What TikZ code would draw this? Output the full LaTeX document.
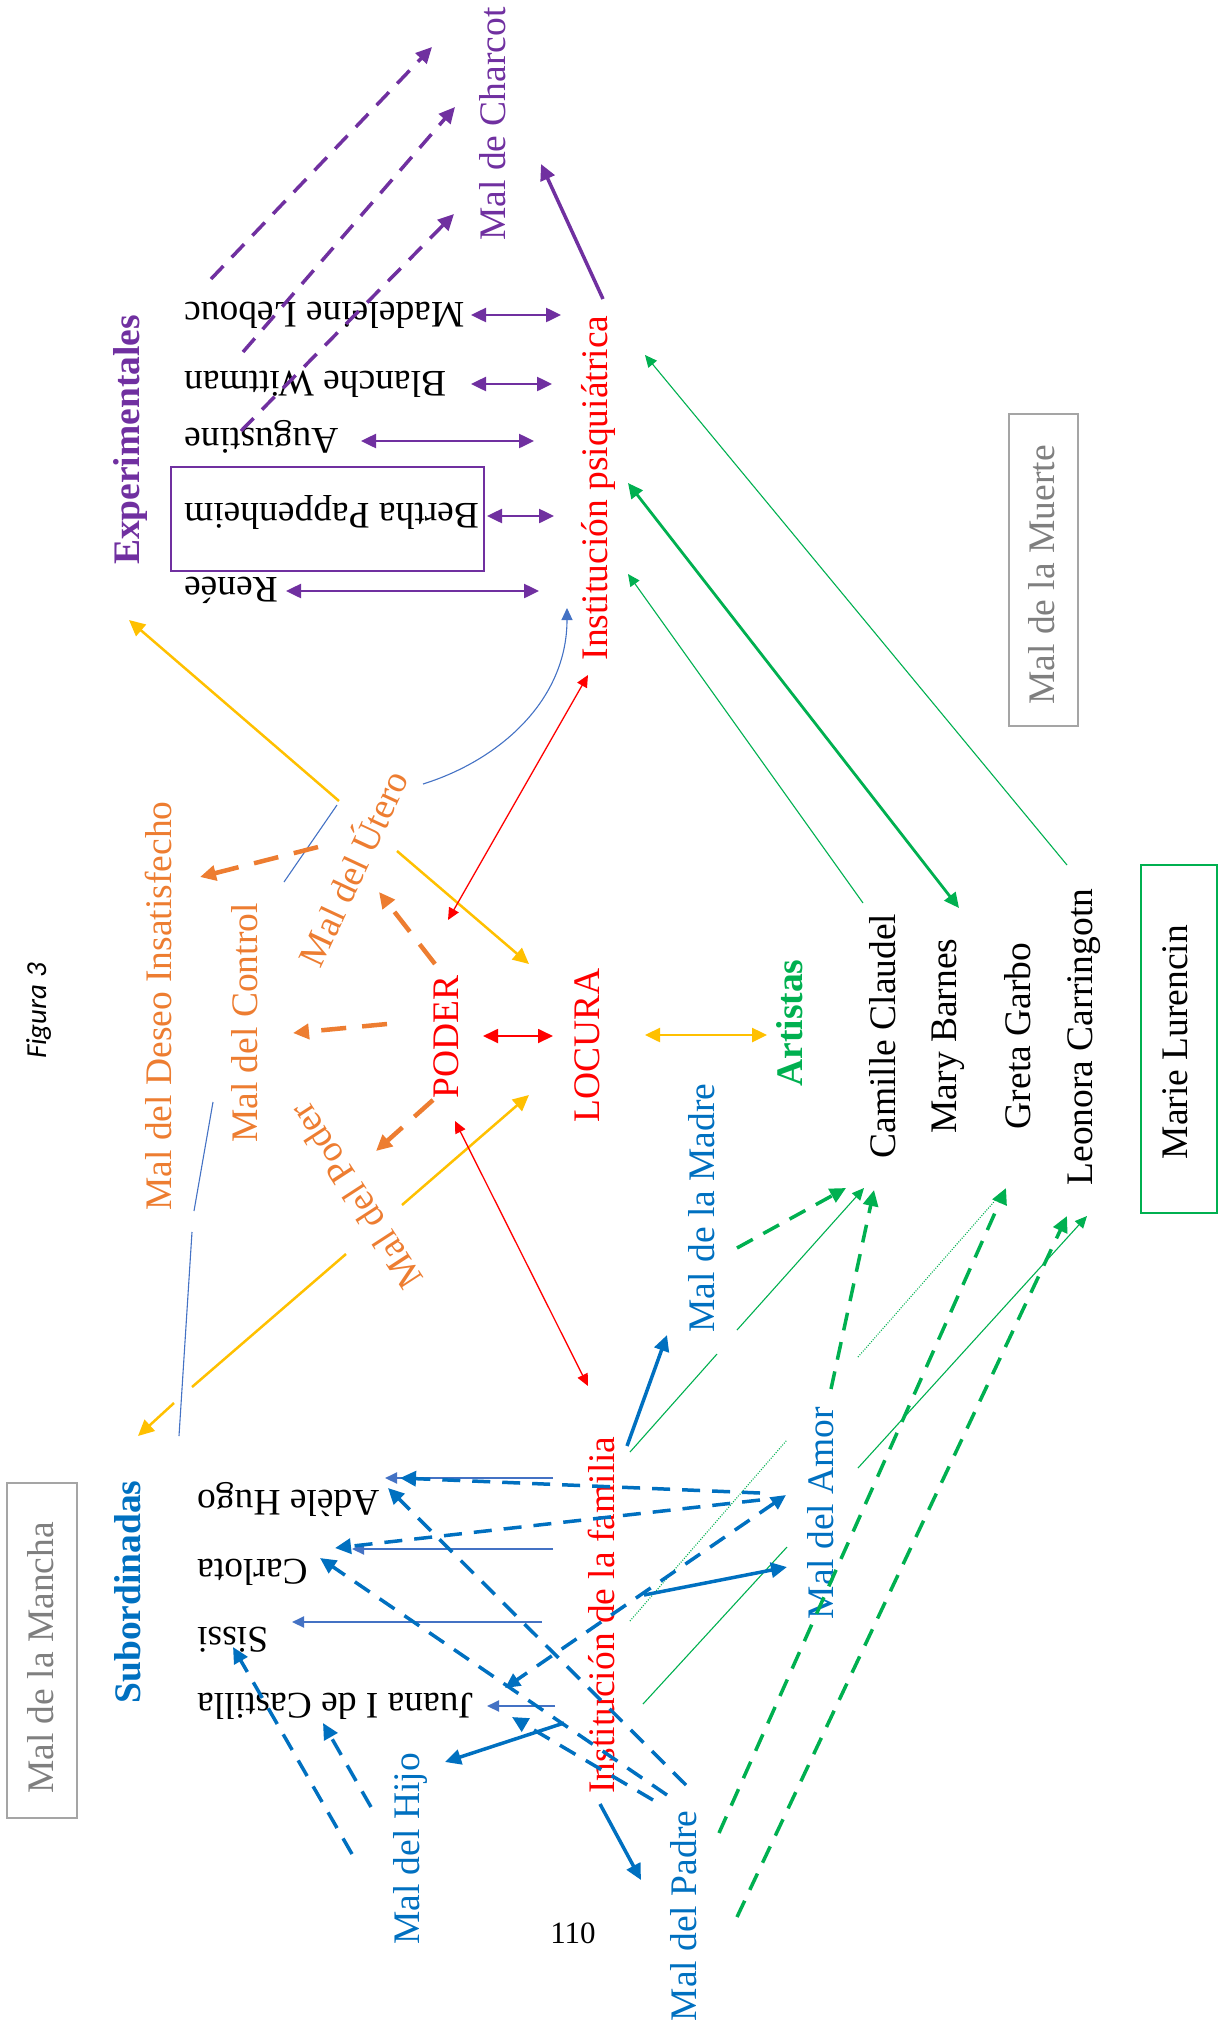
\documentclass[tikz,border=0pt]{standalone}
\usepackage{fontspec}
\setmainfont{Liberation Serif}
\newfontfamily\figfont{Carlito}
\usetikzlibrary{arrows.meta}
\definecolor{cpur}{HTML}{7030A0}
\definecolor{cgrn}{HTML}{00B050}
\definecolor{cblu}{HTML}{0070C0}
\definecolor{cblt}{HTML}{4472C4}
\definecolor{corg}{HTML}{ED7D31}
\definecolor{cyel}{HTML}{FFC000}
\definecolor{cred}{HTML}{FF0000}
\definecolor{cgbx}{HTML}{A5A5A5}
\definecolor{cgtx}{HTML}{7F7F7F}
\newcommand\fsz{\fontsize{37.5}{42}\selectfont}
\begin{document}
\begin{tikzpicture}[x=1pt,y=-1pt,
 lab/.style={inner sep=0pt,font=\fsz},
 vtxt/.style={lab,rotate=90,anchor=base},
 utxt/.style={lab,rotate=180,anchor=base east},
 hs/.style={-{Triangle[length=12pt,width=11pt]}},
 hsd/.style={{Triangle[length=12pt,width=11pt]}-{Triangle[length=12pt,width=11pt]}},
 hl/.style={-{Triangle[length=16pt,width=15pt]}},
 hld/.style={{Triangle[length=15pt,width=14pt]}-{Triangle[length=15pt,width=14pt]}},
 dsh/.style={dash pattern=on 18pt off 12pt},
 dsho/.style={dash pattern=on 25pt off 16pt},
]
\path[use as bounding box] (0,0) rectangle (1225,2039);

% ---------- text nodes ----------
\node[vtxt,text=cpur] (charcot) at (505,124) {Mal de Charcot};
\node[vtxt,text=cpur,font=\fsz\bfseries] (exper) at (139,440) {Experimentales};
\node[utxt] (madel) at (184,302) {Madeleine Lebouc};
\node[utxt] (blanche) at (184,371) {Blanche Wittman};
\node[utxt] (august) at (184,428) {Augustine};
\node[utxt] (bertha) at (184,503) {Bertha Pappenheim};
\node[utxt] (renee) at (184,577) {Renée};
\node[vtxt,text=cred] (ipsi) at (607,488) {Institución psiquiátrica};
\node[vtxt,text=cgtx] (muerte) at (1054,575) {Mal de la Muerte};
\node[vtxt,text=corg] (deseo) at (171,1006) {Mal del Deseo Insatisfecho};
\node[vtxt,text=corg] (control) at (257,1023) {Mal del Control};
\node[lab,text=corg,rotate=65] (utero) at (351,867) {Mal del Útero};
\node[lab,text=corg,rotate=123] (mpoder) at (356,1196) {Mal del Poder};
\node[vtxt,text=cred] (poder) at (458,1037) {PODER};
\node[vtxt,text=cred] (locura) at (599,1045) {LOCURA};
\node[vtxt,text=cgrn,font=\fsz\bfseries] (artistas) at (802,1023) {Artistas};
\node[vtxt] (camille) at (895,1036) {Camille Claudel};
\node[vtxt] (mary) at (956,1036) {Mary Barnes};
\node[vtxt] (greta) at (1030,1036) {Greta Garbo};
\node[vtxt] (leonora) at (1092,1037) {Leonora Carringotn};
\node[vtxt] (marie) at (1187,1042) {Marie Lurencin};
\node[vtxt,text=cblu] (madre) at (714,1208) {Mal de la Madre};
\node[vtxt,text=cblu] (amor) at (833,1513) {Mal del Amor};
\node[vtxt,text=cred] (ifam) at (614,1615) {Institución de la familia};
\node[vtxt,text=cblu] (hijo) at (419,1849) {Mal del Hijo};
\node[vtxt,text=cblu] (padre) at (696,1916) {Mal del Padre};
\node[vtxt,text=cblu,font=\fsz\bfseries] (subord) at (140,1592) {Subordinadas};
\node[utxt] (adele) at (197,1490) {Adèle Hugo};
\node[utxt] (carlota) at (197,1559) {Carlota};
\node[utxt] (sissi) at (197,1627) {Sissi};
\node[utxt] (juana) at (197,1693) {Juana I de Castilla};
\node[vtxt,text=cgtx] (mancha) at (53,1658) {Mal de la Mancha};
\node[inner sep=0pt,rotate=90,anchor=base,font=\figfont\itshape\fontsize{29}{32}\selectfont] (fig) at (46,1011) {Figura 3};
\node[inner sep=0pt,anchor=base,font=\fontsize{31}{34}\selectfont] (pnum) at (573,1943) {110};

% ---------- boxes ----------
\draw[cpur,line width=2pt] (171,467) rectangle (484,571);
\draw[cgbx,line width=1.5pt] (7,1483) rectangle (77,1818);
\draw[cgbx,line width=1.5pt] (1009,414) rectangle (1078,726);
\draw[cgrn,line width=1.3pt] (1141,865) rectangle (1217,1213);

% ---------- coordinates ----------
\coordinate (pd1s) at (211,279); \coordinate (pd1e) at (432,47);
\coordinate (pd2s) at (243,352); \coordinate (pd2e) at (455,107);
\coordinate (pd3s) at (241,431); \coordinate (pd3e) at (454,214);
\coordinate (pts) at (603,299);  \coordinate (pte) at (541,164);
\coordinate (pma) at (471,315); \coordinate (pmb) at (561,315);
\coordinate (pba) at (471,384); \coordinate (pbb) at (552,384);
\coordinate (paa) at (361,441); \coordinate (pab) at (534,441);
\coordinate (pea) at (487,516); \coordinate (peb) at (554,516);
\coordinate (pra) at (286,591); \coordinate (prb) at (539,591);

\coordinate (bc1a) at (179,1436); \coordinate (bc1b) at (192,1232);
\coordinate (bc2a) at (194,1211); \coordinate (bc2b) at (213,1102);
\coordinate (bc3a) at (284,882);  \coordinate (bc3b) at (337,805);
\coordinate (bc4a) at (423,784);  \coordinate (bc4b) at (567,608);
\coordinate (bc4c) at (500,760);  \coordinate (bc4d) at (567,700);

\coordinate (y1a) at (339,801); \coordinate (y1b) at (129,620);
\coordinate (y2a) at (397,851); \coordinate (y2b) at (529,964);
\coordinate (y3a) at (402,1205); \coordinate (y3b) at (529,1095);
\coordinate (y4a) at (346,1254); \coordinate (y4b) at (192,1387);
\coordinate (y4c) at (174,1403); \coordinate (y4d) at (138,1436);
\coordinate (y5a) at (645,1035); \coordinate (y5b) at (767,1035);

\coordinate (r1a) at (448,920); \coordinate (r1b) at (588,675);
\coordinate (r2a) at (483,1036); \coordinate (r2b) at (553,1036);
\coordinate (r3a) at (455,1121); \coordinate (r3b) at (588,1386);

\coordinate (o1a) at (318,847); \coordinate (o1b) at (200,877);
\coordinate (o2a) at (435,964); \coordinate (o2b) at (379,892);
\coordinate (o3a) at (387,1024); \coordinate (o3b) at (293,1033);
\coordinate (o4a) at (433,1100); \coordinate (o4b) at (376,1151);

\coordinate (g1a) at (863,903); \coordinate (g1b) at (628,574);
\coordinate (g2a) at (628,483); \coordinate (g2b) at (959,908);
\coordinate (g3a) at (1067,865); \coordinate (g3b) at (645,355);
\coordinate (g4a) at (630,1452); \coordinate (g4b) at (717,1354);
\coordinate (g4c) at (737,1330); \coordinate (g4d) at (864,1188);
\coordinate (g5a) at (630,1621); \coordinate (g5b) at (787,1440);
\coordinate (g5c) at (858,1357); \coordinate (g5d) at (999,1196);
\coordinate (g6a) at (643,1704); \coordinate (g6b) at (787,1547);
\coordinate (g6c) at (858,1468); \coordinate (g6d) at (1087,1216);
\coordinate (g7a) at (737,1248); \coordinate (g7b) at (846,1188);
\coordinate (g8a) at (831,1389); \coordinate (g8b) at (874,1190);
\coordinate (g9a) at (719,1833); \coordinate (g9b) at (1006,1188);
\coordinate (g10a) at (737,1917); \coordinate (g10b) at (1067,1216);

\coordinate (bt1a) at (553,1478); \coordinate (bt1b) at (385,1478);
\coordinate (bt2a) at (553,1549); \coordinate (bt2b) at (352,1549);
\coordinate (bt3a) at (542,1622); \coordinate (bt3b) at (292,1622);
\coordinate (bt4a) at (555,1706); \coordinate (bt4b) at (487,1706);
\coordinate (bd1a) at (760,1493); \coordinate (bd1b) at (400,1478);
\coordinate (bd2a) at (760,1500); \coordinate (bd2b) at (335,1548);
\coordinate (bd3a) at (786,1495); \coordinate (bd3b) at (505,1688);
\coordinate (bd4a) at (686,1785); \coordinate (bd4b) at (388,1488);
\coordinate (bd5a) at (667,1795); \coordinate (bd5b) at (320,1558);
\coordinate (bd6a) at (653,1800); \coordinate (bd6b) at (512,1717);
\coordinate (bd7a) at (352,1854); \coordinate (bd7b) at (233,1647);
\coordinate (bd8a) at (371,1807); \coordinate (bd8b) at (323,1723);
\coordinate (bk1a) at (627,1446); \coordinate (bk1b) at (667,1335);
\coordinate (bk2a) at (600,1804); \coordinate (bk2b) at (641,1880);
\coordinate (bk3a) at (564,1723); \coordinate (bk3b) at (445,1762);
\coordinate (bk4a) at (644,1595); \coordinate (bk4b) at (787,1567);

% ---------- purple ----------
\draw[cpur,line width=3.5pt,dsh,hl] (pd1s) -- (pd1e);
\draw[cpur,line width=3.5pt,dsh,hl] (pd2s) -- (pd2e);
\draw[cpur,line width=3.5pt,dsh,hl] (pd3s) -- (pd3e);
\draw[cpur,line width=3.5pt,hl] (pts) -- (pte);
\draw[cpur,line width=2.5pt,hld] (pma) -- (pmb);
\draw[cpur,line width=2.5pt,hld] (pba) -- (pbb);
\draw[cpur,line width=2.5pt,hld] (paa) -- (pab);
\draw[cpur,line width=2.5pt,hld] (pea) -- (peb);
\draw[cpur,line width=2.5pt,hld] (pra) -- (prb);

% ---------- thin blue curve ----------
\draw[cblt,line width=1.1pt] (bc1a) -- (bc1b);
\draw[cblt,line width=1.1pt] (bc2a) -- (bc2b);
\draw[cblt,line width=1.1pt] (bc3a) -- (bc3b);
\draw[cblt,line width=1.1pt,hs] (bc4a) .. controls (bc4c) and (bc4d) .. (bc4b);

% ---------- yellow ----------
\draw[cyel,line width=2.5pt,hl] (y1a) -- (y1b);
\draw[cyel,line width=2.5pt,hl] (y2a) -- (y2b);
\draw[cyel,line width=2.5pt,hl] (y3a) -- (y3b);
\draw[cyel,line width=2.5pt] (y4a) -- (y4b);
\draw[cyel,line width=2.5pt,hl] (y4c) -- (y4d);
\draw[cyel,line width=2.5pt,hld] (y5a) -- (y5b);

% ---------- red ----------
\draw[cred,line width=1.3pt,hsd] (r1a) -- (r1b);
\draw[cred,line width=1.8pt,hld] (r2a) -- (r2b);
\draw[cred,line width=1.3pt,hsd] (r3a) -- (r3b);

% ---------- orange ----------
\draw[corg,line width=4.5pt,dsho,hl] (o1a) -- (o1b);
\draw[corg,line width=4.5pt,dsho,hl] (o2a) -- (o2b);
\draw[corg,line width=4.5pt,dsho,hl] (o3a) -- (o3b);
\draw[corg,line width=4.5pt,dsho,hl] (o4a) -- (o4b);

% ---------- green ----------
\draw[cgrn,line width=1.1pt,hs] (g1a) -- (g1b);
\draw[cgrn,line width=2.8pt,hld] (g2a) -- (g2b);
\draw[cgrn,line width=1.1pt,hs] (g3a) -- (g3b);
\draw[cgrn,line width=1.1pt] (g4a) -- (g4b);
\draw[cgrn,line width=1.1pt,hs] (g4c) -- (g4d);
\draw[cgrn,line width=1.1pt,dash pattern=on 1pt off 1.5pt] (g5a) -- (g5b);
\draw[cgrn,line width=1.1pt,dash pattern=on 1pt off 1.5pt] (g5c) -- (g5d);
\draw[cgrn,line width=1.1pt] (g6a) -- (g6b);
\draw[cgrn,line width=1.1pt,hs] (g6c) -- (g6d);
\draw[cgrn,line width=3.5pt,dsh,hl] (g7a) -- (g7b);
\draw[cgrn,line width=3.5pt,dsh,hl] (g8a) -- (g8b);
\draw[cgrn,line width=3.5pt,dsh,hl] (g9a) -- (g9b);
\draw[cgrn,line width=3.5pt,dsh,hl] (g10a) -- (g10b);

% ---------- blue ----------
\draw[cblt,line width=2pt,hs] (bt1a) -- (bt1b);
\draw[cblt,line width=2pt,hs] (bt2a) -- (bt2b);
\draw[cblt,line width=2pt,hs] (bt3a) -- (bt3b);
\draw[cblt,line width=2pt,hs] (bt4a) -- (bt4b);
\draw[cblu,line width=3.5pt,dsh,hl] (bd1a) -- (bd1b);
\draw[cblu,line width=3.5pt,dsh,hl] (bd2a) -- (bd2b);
\draw[cblu,line width=3.5pt,dsh,hld] (bd3a) -- (bd3b);
\draw[cblu,line width=3.5pt,dsh,hl] (bd4a) -- (bd4b);
\draw[cblu,line width=3.5pt,dsh,hl] (bd5a) -- (bd5b);
\draw[cblu,line width=3.5pt,dsh,hl] (bd6a) -- (bd6b);
\draw[cblu,line width=3.5pt,dsh,hl] (bd7a) -- (bd7b);
\draw[cblu,line width=3.5pt,dsh,hl] (bd8a) -- (bd8b);
\draw[cblu,line width=3.5pt,hl] (bk1a) -- (bk1b);
\draw[cblu,line width=3.5pt,hl] (bk2a) -- (bk2b);
\draw[cblu,line width=3.5pt,hl] (bk3a) -- (bk3b);
\draw[cblu,line width=3.5pt,hl] (bk4a) -- (bk4b);
\end{tikzpicture}
\end{document}
